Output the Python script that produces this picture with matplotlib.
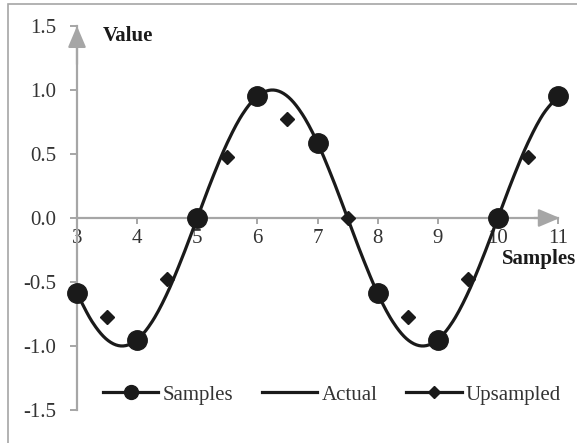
import numpy as np
import matplotlib
matplotlib.use("Agg")
import matplotlib.pyplot as plt
from matplotlib.lines import Line2D
from matplotlib.patches import Rectangle

plt.rcParams['font.family'] = ['Liberation Serif', 'DejaVu Serif']

# sampled points (integer x)
sample_x = [3, 4, 5, 6, 7, 8, 9, 10, 11]
sample_y = [-0.588, -0.951, 0.0, 0.951, 0.588, -0.588, -0.951, 0.0, 0.951]

# upsampled points (half-way between samples)
up_x = [3.5, 4.5, 5.5, 6.5, 7.5, 8.5, 9.5, 10.5]
up_y = [-0.77, -0.48, 0.48, 0.77, 0.0, -0.77, -0.48, 0.48]

# actual signal, read every 0.25
actual_x = [3, 3.25, 3.5, 3.75, 4, 4.25, 4.5, 4.75, 5, 5.25, 5.5, 5.75, 6, 6.25,
            6.5, 6.75, 7, 7.25, 7.5, 7.75, 8, 8.25, 8.5, 8.75, 9, 9.25, 9.5,
            9.75, 10, 10.25, 10.5, 10.75, 11]
actual_y = [-0.588, -0.809, -0.951, -1.0, -0.951, -0.809, -0.588, -0.309, 0.0,
            0.309, 0.588, 0.809, 0.951, 1.0, 0.951, 0.809, 0.588, 0.309, 0.0,
            -0.309, -0.588, -0.809, -0.951, -1.0, -0.951, -0.809, -0.588,
            -0.309, 0.0, 0.309, 0.588, 0.809, 0.951]

yticks = [-1.5, -1.0, -0.5, 0.0, 0.5, 1.0, 1.5]
xticks = [3, 4, 5, 6, 7, 8, 9, 10, 11]


def smooth(xs, ys, n=12):
    # catmull-rom through the points, like a smoothed Excel line
    p = np.column_stack([xs, ys]).astype(float)
    p = np.vstack([p[0], p, p[-1]])
    out = []
    for i in range(1, len(p) - 2):
        p0, p1, p2, p3 = p[i - 1], p[i], p[i + 1], p[i + 2]
        for t in np.linspace(0, 1, n, endpoint=False):
            out.append(0.5 * ((2 * p1) + (-p0 + p2) * t
                              + (2 * p0 - 5 * p1 + 4 * p2 - p3) * t ** 2
                              + (-p0 + 3 * p1 - 3 * p2 + p3) * t ** 3))
    out.append(p[-2])
    out = np.array(out)
    return out[:, 0], out[:, 1]


gray = '#a6a6a6'
txt = '#333333'
fs = 15

fig = plt.figure(figsize=(5.77, 4.43), dpi=100)
fig.patches.append(Rectangle((8 / 577, -0.1), 1.2, 1 - 4 / 443 + 0.1,
                             transform=fig.transFigure, fill=False,
                             edgecolor=gray, lw=1.2))
ax = fig.add_axes([77 / 577, 1 - 410 / 443, 481 / 577, 384 / 443])
ax.set_xlim(3, 11)
ax.set_ylim(-1.5, 1.5)
ax.patch.set_alpha(0)

sx, sy = smooth(actual_x, actual_y)
ax.plot(sx, sy, color='#1a1a1a', lw=2.3, zorder=3, clip_on=False)
ax.plot(sample_x, sample_y, 'o', color='#1a1a1a', ms=14, zorder=4, clip_on=False)
ax.plot(up_x, up_y, 'D', color='#1a1a1a', ms=7, zorder=4, clip_on=False)

for s in ['top', 'right']:
    ax.spines[s].set_visible(False)
ax.spines['bottom'].set_position(('data', 0))
ax.spines['left'].set_color(gray)
ax.spines['bottom'].set_color(gray)
ax.spines['left'].set_linewidth(1.6)
ax.spines['bottom'].set_linewidth(1.6)

ax.set_yticks(yticks)
ax.set_yticklabels(['%.1f' % v for v in yticks])
ax.set_xticks(xticks)
ax.tick_params(axis='y', direction='out', length=5, width=1.4, color=gray,
               labelsize=fs, labelcolor=txt, pad=10)
ax.tick_params(axis='x', direction='out', length=4, width=1.4, color=gray,
               labelsize=fs, labelcolor=txt, pad=4)

arrow = dict(arrowstyle='-|>,head_length=1.3,head_width=0.55', color=gray,
             lw=1.6, mutation_scale=10, shrinkA=0, shrinkB=0)
ax.annotate('', xy=(3, 1.5), xytext=(3, 1.2), arrowprops=arrow,
            annotation_clip=False)
ax.annotate('', xy=(11.03, 0), xytext=(10.6, 0), arrowprops=arrow,
            annotation_clip=False)

fig.text(103 / 577, 1 - 36 / 443, 'Value', fontsize=fs, fontweight='bold',
         va='center', ha='left', color='#1a1a1a')
fig.text(576 / 577, 1 - 249 / 443, 'Samples', fontsize=fs, fontweight='bold',
         va='top', ha='right', color='#1a1a1a')

handles = [
    Line2D([], [], color='#1a1a1a', lw=2.3, marker='o', ms=10),
    Line2D([], [], color='#1a1a1a', lw=2.3),
    Line2D([], [], color='#1a1a1a', lw=2.3, marker='D', ms=6),
]
leg = fig.legend(handles, ['Samples', 'Actual', 'Upsampled'], ncol=3,
                 loc='center', bbox_to_anchor=(332 / 577, 1 - 395 / 443),
                 frameon=False, fontsize=fs, handlelength=2.65,
                 handletextpad=0.2, columnspacing=1.4)
for t in leg.get_texts():
    t.set_color(txt)

fig.savefig('out.png', dpi=100)
